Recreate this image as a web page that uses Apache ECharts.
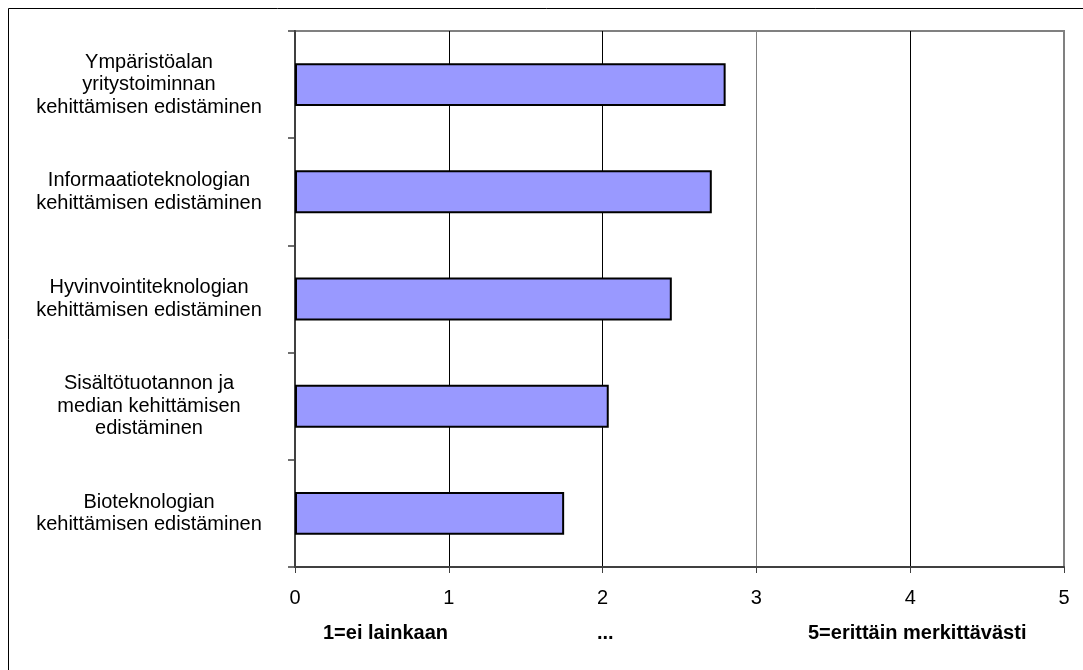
<!DOCTYPE html>
<html>
<head>
<meta charset="utf-8">
<script src="https://cdn.jsdelivr.net/npm/echarts@6/dist/echarts.min.js"></script>
<style>
html,body{margin:0;padding:0;background:#fff;}
#chart{width:1083px;height:670px;}
</style>
</head>
<body>
<div id="chart"></div>
<script>
var categories = [
  "Ympäristöalan\nyritystoiminnan\nkehittämisen edistäminen",
  "Informaatioteknologian\nkehittämisen edistäminen",
  "Hyvinvointiteknologian\nkehittämisen edistäminen",
  "Sisältötuotannon ja\nmedian kehittämisen\nedistäminen",
  "Bioteknologian\nkehittämisen edistäminen"
];
var values = [2.80, 2.71, 2.45, 2.04, 1.75];
var xTicks = [0, 1, 2, 3, 4, 5];
var scaleTexts = ["1=ei lainkaan", "...", "5=erittäin merkittävästi"];

var chart = echarts.init(document.getElementById('chart'), null, {renderer: 'canvas'});
var font = '"Liberation Sans", Arial, sans-serif';
chart.setOption({
  animation: false,
  backgroundColor: '#ffffff',
  grid: {
    left: 295, right: 19, top: 31, bottom: 103,
    show: true, borderColor: '#808080', borderWidth: 2, backgroundColor: 'transparent'
  },
  xAxis: {
    type: 'value',
    min: xTicks[0], max: xTicks[xTicks.length - 1], interval: 1,
    axisLine: {show: true, lineStyle: {color: '#404040', width: 2}},
    axisTick: {show: true, length: 6, lineStyle: {color: '#404040', width: 1}},
    axisLabel: {color: '#000', fontSize: 20, fontFamily: font, margin: 21},
    splitLine: {show: true, lineStyle: {color: ['#000', '#000', '#000', '#808080', '#000', '#808080'], width: [1]}}
  },
  yAxis: {
    type: 'category',
    inverse: true,
    data: categories,
    axisLine: {show: true, lineStyle: {color: '#404040', width: 2}},
    axisTick: {show: true, length: 7, lineStyle: {color: '#404040', width: 1.5}},
    axisLabel: {
      color: '#000', fontSize: 20, fontFamily: font, align: 'center',
      margin: 146, lineHeight: 22.5
    },
    splitLine: {show: false}
  },
  graphic: [
    {type: 'rect', shape: {x: 8.5, y: 8.5, width: 1200, height: 800}, style: {fill: 'none', stroke: '#000', lineWidth: 1}, silent: true, z: -1},
    {type: 'text', left: 323, top: 623, style: {text: scaleTexts[0], font: 'bold 20px ' + font, fill: '#000'}},
    {type: 'text', left: 597, top: 623, style: {text: scaleTexts[1], font: 'bold 20px ' + font, fill: '#000'}},
    {type: 'text', left: 808, top: 623, style: {text: scaleTexts[2], font: 'bold 20px ' + font, fill: '#000'}}
  ],
  series: [{
    type: 'bar',
    data: values,
    barCategoryGap: '60%',
    itemStyle: {color: '#9999FF', borderColor: '#000', borderWidth: 2},
    silent: true
  }]
});
</script>
</body>
</html>
